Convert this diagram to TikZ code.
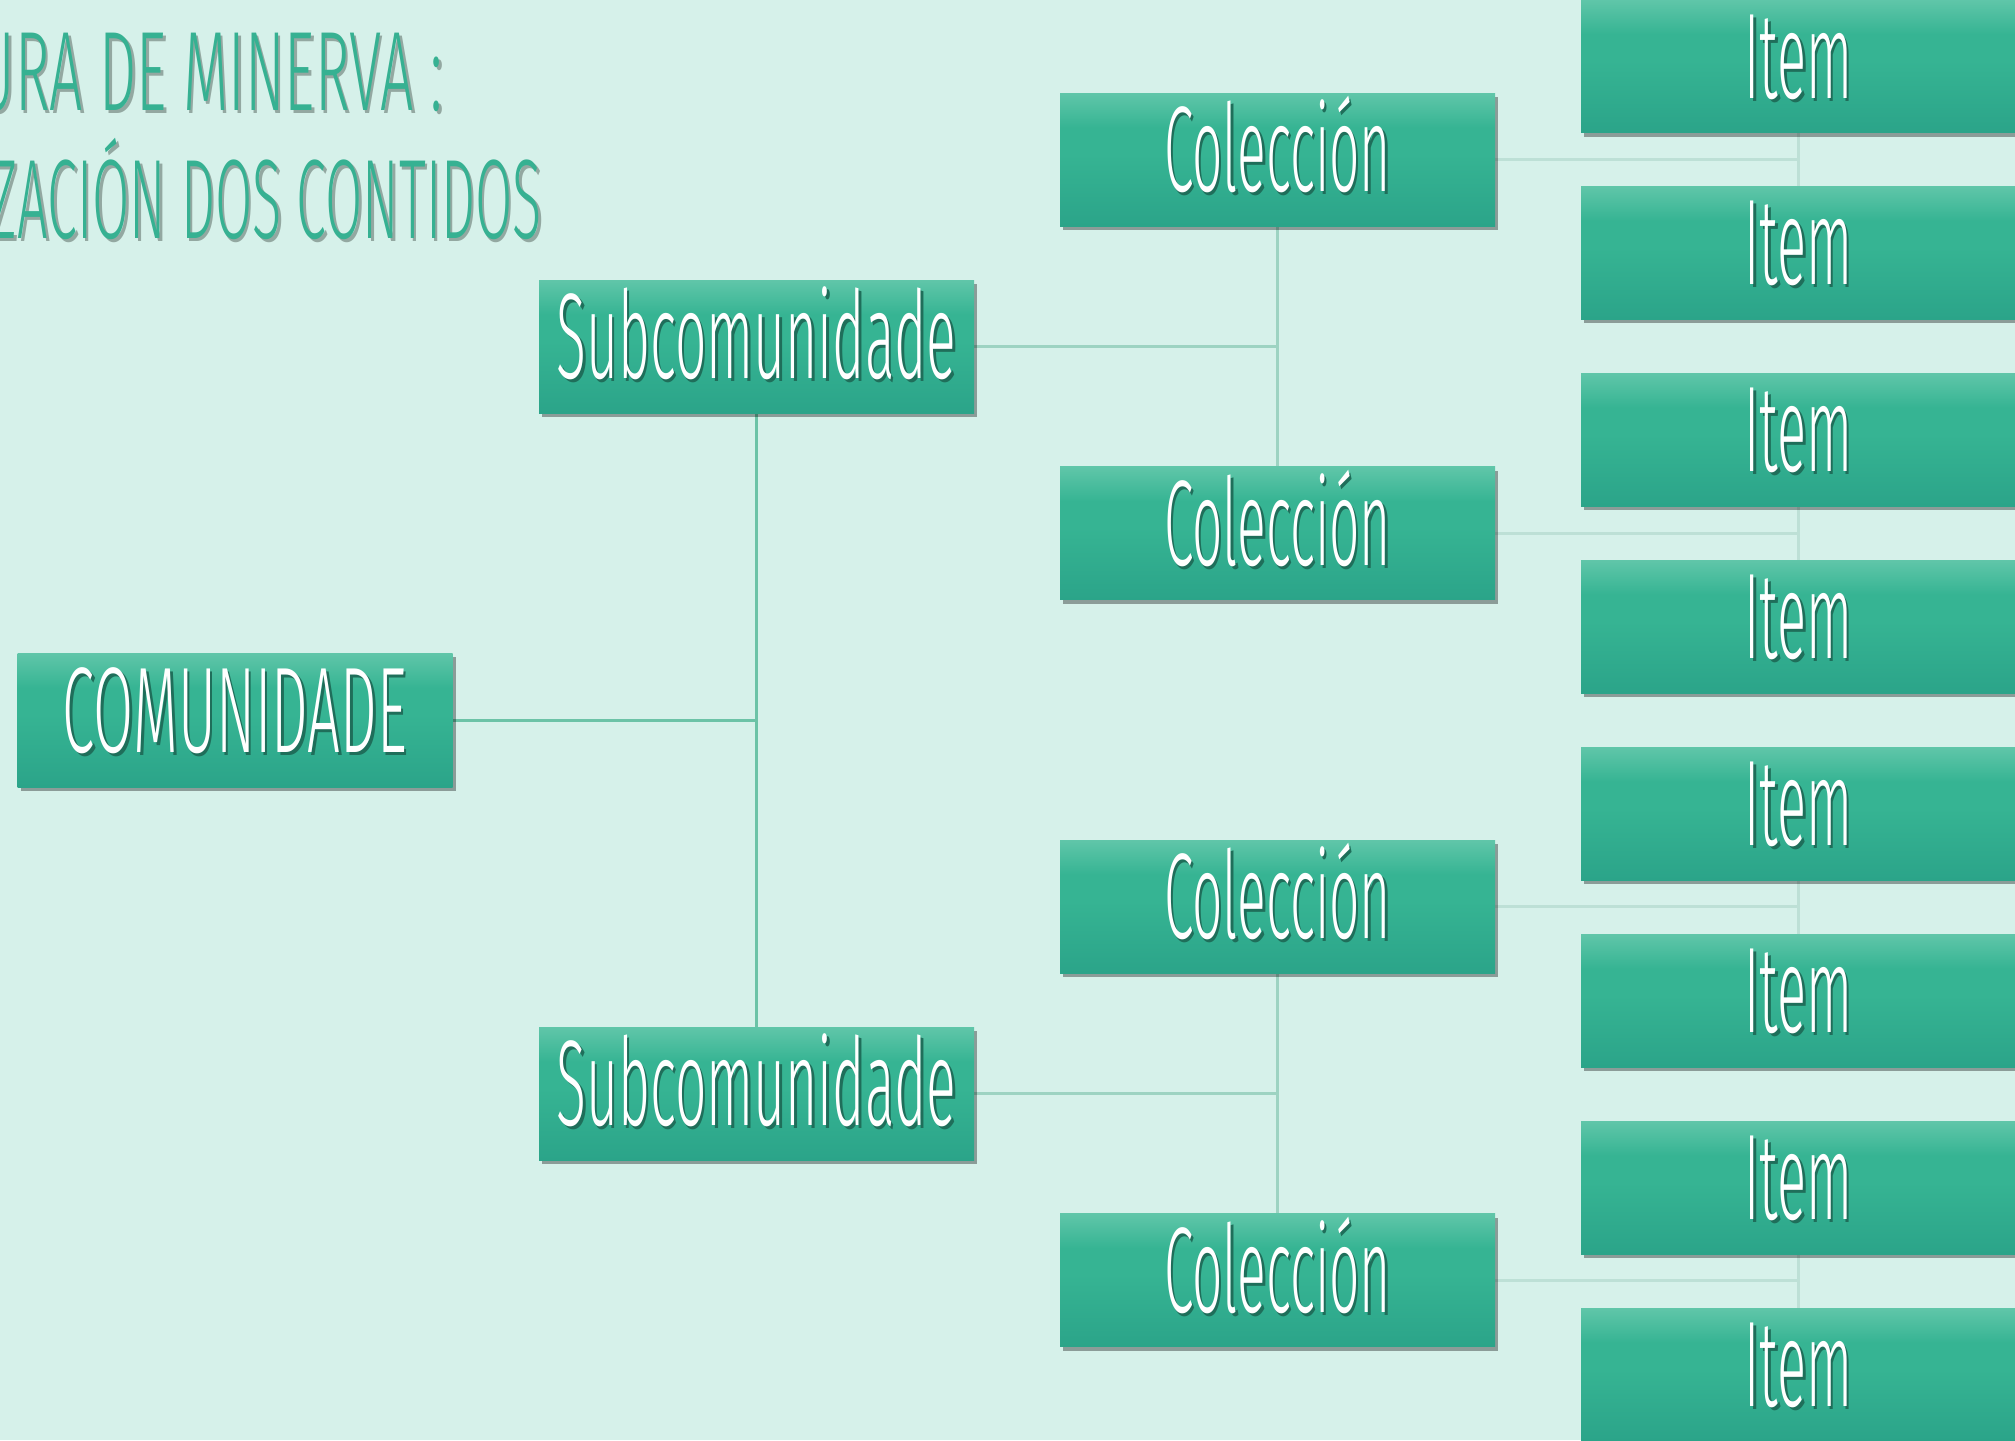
\documentclass[tikz,border=0pt]{standalone}
\usepackage{fontspec}
\newfontfamily\lightfont{Fira Sans Light}
\usetikzlibrary{shadows}
\definecolor{bgc}{HTML}{D6F1EA}
\definecolor{lineA}{HTML}{6CC3A7}
\definecolor{lineB}{HTML}{9DD3C2}
\definecolor{lineC}{HTML}{BDE0D6}
\definecolor{boxtop}{HTML}{60C6A9}
\definecolor{boxmid}{HTML}{36B493}
\definecolor{boxbot}{HTML}{2BA489}
\definecolor{titlec}{HTML}{36B192}
\definecolor{titleshadow}{HTML}{93A8A1}
\definecolor{txtshadow}{HTML}{1F6E5A}
\pgfdeclareverticalshading{boxshade}{100bp}{color(0bp)=(boxbot); color(25bp)=(boxbot); color(52bp)=(boxmid); color(62bp)=(boxmid); color(75bp)=(boxtop); color(100bp)=(boxtop)}
\pgfdeclarelayer{back}
\pgfsetlayers{back,main}
\newcommand\shtext[2]{\makebox[0pt][l]{\hspace*{2.5pt}\raisebox{-3pt}{\textcolor{#1}{#2}}}#2}
\newcommand\fitw[2]{\resizebox{#1}{\height}{#2}}
\tikzset{
  box/.style={rectangle, minimum width=435pt, minimum height=133pt, inner sep=0pt,
    shading=boxshade, text=white,
    drop shadow={shadow xshift=3pt, shadow yshift=-4pt, opacity=0.35, fill=black},
    font={\lightfont\fontsize{122pt}{130pt}\selectfont},
    text height=84pt, text depth=20pt},
  conA/.style={draw=lineA, line width=3pt},
  conB/.style={draw=lineB, line width=3pt},
  conC/.style={draw=lineC, line width=3pt},
  titletxt/.style={text=titlec, inner sep=0pt,
    font={\lightfont\fontsize{113pt}{120pt}\selectfont}}
}
\begin{document}
\begin{tikzpicture}[x=1pt,y=-1pt]
\useasboundingbox (0,0) rectangle (2015,1440);
\begin{pgfonlayer}{back}
\fill[bgc] (0,0) rectangle (2015,1440);
\end{pgfonlayer}
\clip (0,0) rectangle (2015,1440);

% title
\node[titletxt, anchor=base east] (t1) at (443,110) {\shtext{titleshadow}{\fitw{466pt}{URA DE MINERVA :}}};
\node[titletxt, anchor=base east] (t2) at (542,238) {\shtext{titleshadow}{\fitw{552pt}{ZACIÓN DOS CONTIDOS}}};

% boxes
\node[box, minimum height=134pt] (com) at (235,720) {\shtext{txtshadow}{\fitw{344pt}{COMUNIDADE}}};
\node[box] (sub1) at (756.5,346.5) {\shtext{txtshadow}{\fitw{400pt}{Subcomunidade}}};
\node[box] (sub2) at (756.5,1093.5) {\shtext{txtshadow}{\fitw{400pt}{Subcomunidade}}};
\node[box] (col1) at (1277.5,159.5) {\shtext{txtshadow}{\fitw{227pt}{Colección}}};
\node[box] (col2) at (1277.5,533) {\shtext{txtshadow}{\fitw{227pt}{Colección}}};
\node[box] (col3) at (1277.5,906.5) {\shtext{txtshadow}{\fitw{227pt}{Colección}}};
\node[box] (col4) at (1277.5,1280) {\shtext{txtshadow}{\fitw{227pt}{Colección}}};
\node[box] (it1) at (1798.5,66) {\shtext{txtshadow}{\fitw{108pt}{Item}}};
\node[box] (it2) at (1798.5,252.5) {\shtext{txtshadow}{\fitw{108pt}{Item}}};
\node[box] (it3) at (1798.5,439.5) {\shtext{txtshadow}{\fitw{108pt}{Item}}};
\node[box] (it4) at (1798.5,626.5) {\shtext{txtshadow}{\fitw{108pt}{Item}}};
\node[box] (it5) at (1798.5,813.5) {\shtext{txtshadow}{\fitw{108pt}{Item}}};
\node[box] (it6) at (1798.5,1000.5) {\shtext{txtshadow}{\fitw{108pt}{Item}}};
\node[box] (it7) at (1798.5,1187.5) {\shtext{txtshadow}{\fitw{108pt}{Item}}};
\node[box] (it8) at (1798.5,1374.5) {\shtext{txtshadow}{\fitw{108pt}{Item}}};

% connectors
\begin{pgfonlayer}{back}
\draw[conA] (com.east) -- (com.east -| sub1.south);
\draw[conA] (sub1.south) -- (sub2.north);
\draw[conB] (sub1.east) -- (sub1.east -| col1.south);
\draw[conB] (col1.south) -- (col2.north);
\draw[conB] (sub2.east) -- (sub2.east -| col3.south);
\draw[conB] (col3.south) -- (col4.north);
\draw[conC] (col1.east) -- (col1.east -| it1.south);
\draw[conC] (it1.south) -- (it2.north);
\draw[conC] (col2.east) -- (col2.east -| it3.south);
\draw[conC] (it3.south) -- (it4.north);
\draw[conC] (col3.east) -- (col3.east -| it5.south);
\draw[conC] (it5.south) -- (it6.north);
\draw[conC] (col4.east) -- (col4.east -| it7.south);
\draw[conC] (it7.south) -- (it8.north);
\end{pgfonlayer}
\end{tikzpicture}
\end{document}
